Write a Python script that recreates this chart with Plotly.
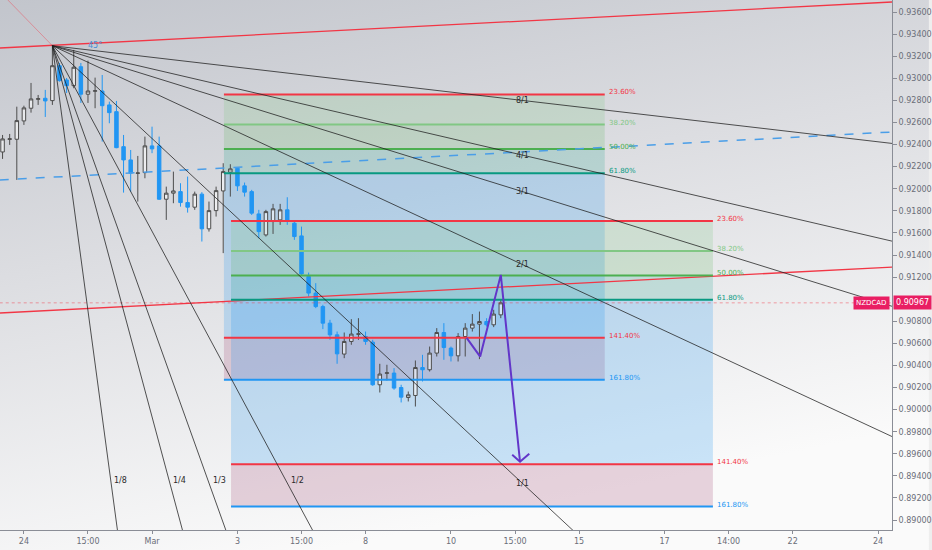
import base64
import plotly.graph_objects as go

# ---------------- data ----------------
bars = list(range(-3, 68))  # 4h bar index, 0 = Feb 24 00:00

opens = [0.92333,0.92447,0.92448,0.92614,0.92729,0.92810,0.92819,0.92798,0.93114,0.92985,
         0.92933,0.93105,0.92856,0.92883,0.92885,0.92759,0.92698,0.92381,0.92261,0.92139,
         0.92146,0.92388,0.92388,0.91905,0.91960,0.91974,0.91875,0.91833,0.91951,0.91637,
         0.91802,0.91980,0.92150,0.92186,0.92026,0.91974,0.91772,0.91582,0.91703,0.91718,
         0.91809,0.91688,0.91573,0.91205,0.91055,0.90933,0.90783,0.90677,0.90503,0.90617,
         0.90682,0.90662,0.90611,0.90225,0.90329,0.90331,0.90200,0.90110,0.90128,0.90381,
         0.90361,0.90512,0.90698,0.90557,0.90487,0.90662,0.90738,0.90774,0.90798,0.90768,
         0.90858]
highs = [0.92487,0.92496,0.92743,0.92752,0.92958,0.92849,0.92895,0.93295,0.93139,0.93003,
         0.93257,0.93139,0.93160,0.93006,0.93030,0.92789,0.92795,0.92487,0.92351,0.92297,
         0.92472,0.92562,0.92472,0.92019,0.92155,0.92050,0.92110,0.91974,0.91969,0.91884,
         0.92019,0.92231,0.92222,0.92191,0.92056,0.91990,0.91809,0.91809,0.91863,0.91863,
         0.91923,0.91712,0.91657,0.91241,0.91145,0.90949,0.90813,0.90707,0.90698,0.90819,
         0.90828,0.90707,0.90632,0.90415,0.90406,0.90376,0.90225,0.90164,0.90445,0.90496,
         0.90571,0.90738,0.90783,0.90571,0.90693,0.90783,0.90865,0.90888,0.90828,0.90904,
         0.90994]
lows = [0.92270,0.92397,0.92080,0.92578,0.92689,0.92759,0.92650,0.92759,0.92970,0.92867,
        0.92910,0.92777,0.92777,0.92729,0.92427,0.92593,0.92367,0.91965,0.91974,0.91884,
        0.92095,0.92322,0.91899,0.91718,0.91869,0.91838,0.91784,0.91809,0.91522,0.91612,
        0.91748,0.91417,0.91929,0.91980,0.91929,0.91763,0.91552,0.91567,0.91591,0.91673,
        0.91673,0.91537,0.91220,0.91024,0.90919,0.90729,0.90632,0.90415,0.90466,0.90587,
        0.90632,0.90587,0.90216,0.90155,0.90264,0.90180,0.90065,0.90074,0.90028,0.90255,
        0.90345,0.90481,0.90451,0.90436,0.90436,0.90481,0.90707,0.90457,0.90752,0.90747,
        0.90828]
closes = [0.92451,0.92452,0.92617,0.92732,0.92813,0.92815,0.92795,0.93114,0.92979,0.92933,
          0.93100,0.92856,0.92885,0.92887,0.92752,0.92689,0.92372,0.92261,0.92141,0.92143,
          0.92388,0.92361,0.91905,0.91960,0.91980,0.91875,0.91833,0.91951,0.91637,0.91802,
          0.91983,0.92155,0.92180,0.92026,0.91969,0.91779,0.91612,0.91793,0.91818,0.91809,
          0.91712,0.91567,0.91229,0.91055,0.90933,0.90783,0.90677,0.90505,0.90617,0.90684,
          0.90686,0.90617,0.90225,0.90322,0.90333,0.90195,0.90113,0.90134,0.90381,0.90361,
          0.90512,0.90698,0.90562,0.90487,0.90662,0.90738,0.90774,0.90798,0.90768,0.90865,
          0.90967]

x_tick_vals = [0, 9, 18, 30, 39, 48, 60, 69, 78, 90, 99, 108, 120]
x_tick_text = ["24", "15:00", "Mar", "3", "15:00", "8", "10", "15:00", "15", "17", "14:00", "22", "24"]
# 0.91000 sits behind the last-price label in the reference, so it is left out
y_tick_vals = [0.890, 0.892, 0.894, 0.896, 0.898, 0.900, 0.902, 0.904, 0.906, 0.908, 0.912,
               0.914, 0.916, 0.918, 0.920, 0.922, 0.924, 0.926, 0.928, 0.930, 0.932, 0.934, 0.936]

x_range = [-3.36, 121.96]
y_range = [0.88910, 0.93709]

last_price = 0.90967
symbol = "NZDCAD"

# Gann fan
fan_origin = (4, 0.93295)
fan_unit = 0.0006          # price per bar for 1/1
fan_names = ["8/1", "4/1", "3/1", "2/1", "1/1", "1/2", "1/3", "1/4", "1/8"]
fan_mult = [1/8, 1/4, 1/3, 1/2, 1, 2, 3, 4, 8]
fan_box = (70.1, 0.89320)  # right edge bar / bottom price of fan label box

# Fibonacci retracements (start bar, end bar, 0% price, 100% price)
fib_ratios = [0.236, 0.382, 0.5, 0.618, 1.414, 1.618]
fib_labels = ["23.60%", "38.20%", "50.00%", "61.80%", "141.40%", "161.80%"]
fib_line_colors = ["#f23645", "#81c784", "#4caf50", "#089981", "#f23645", "#2196f3"]
fib_band_colors = ["rgba(129,199,132,0.22)", "rgba(76,175,80,0.18)", "rgba(8,153,129,0.18)",
                   "rgba(33,150,243,0.22)", "rgba(170,90,130,0.25)"]
fibA = (28.1, 81.6, 0.93295, 0.91425)
fibB = (29.1, 96.8, 0.92150, 0.90279)

# trend lines (x at chart edges, prices)
edge_x = [-3.4, 122.0]
red_top_y = [0.93274, 0.93691]
red_low_y = [0.90875, 0.91291]
blue_dash_y = [0.92079, 0.92514]
red_45_x = [4, -2.3]
red_45_y = [0.93295, 0.93712]

# projection path
proj_x = [62.2, 64.1, 67.0, 69.7]
proj_y = [0.90650, 0.90480, 0.91220, 0.89528]
arrow_x = [68.6, 69.7, 71.0]
arrow_y = [0.89591, 0.89528, 0.89600]

# ---------------- figure ----------------
fig = go.Figure()
shapes = []
annotations = []

FONT = "DejaVu Sans"

def fib_price(f, r):
    return f[2] - r * (f[2] - f[3])

for f in (fibA, fibB):
    prices = [fib_price(f, r) for r in fib_ratios]
    for i in range(len(prices) - 1):
        shapes.append(dict(type="rect", xref="x", yref="y", x0=f[0], x1=f[1],
                           y0=prices[i], y1=prices[i + 1], fillcolor=fib_band_colors[i],
                           line=dict(width=0), layer="below"))

# trend lines under candles
fig.add_trace(go.Scatter(x=edge_x, y=red_top_y, mode="lines", line=dict(color="#f23645", width=1.3),
                         hoverinfo="skip", showlegend=False))
fig.add_trace(go.Scatter(x=edge_x, y=red_low_y, mode="lines", line=dict(color="#f23645", width=1.3),
                         hoverinfo="skip", showlegend=False))
fig.add_trace(go.Scatter(x=red_45_x, y=red_45_y, mode="lines", line=dict(color="rgba(242,54,69,0.5)", width=0.8),
                         hoverinfo="skip", showlegend=False))
fig.add_trace(go.Scatter(x=edge_x, y=[last_price, last_price], mode="lines",
                         line=dict(color="rgba(242,54,69,0.45)", width=1, dash="dot"),
                         hoverinfo="skip", showlegend=False))

for f in (fibA, fibB):
    for r, lab, col in zip(fib_ratios, fib_labels, fib_line_colors):
        p = fib_price(f, r)
        fig.add_trace(go.Scatter(x=[f[0], f[1]], y=[p, p], mode="lines",
                                 line=dict(color=col, width=2), hoverinfo="skip", showlegend=False))
        annotations.append(dict(x=f[1], y=p, xref="x", yref="y", text=lab, showarrow=False,
                                xanchor="left", yanchor="middle", xshift=2, yshift=2,
                                font=dict(family=FONT, size=7, color=col)))

fig.add_trace(go.Scatter(x=edge_x, y=blue_dash_y, mode="lines",
                         line=dict(color="#4a9ee8", width=1.5, dash="dash"),
                         hoverinfo="skip", showlegend=False))

fig.add_trace(go.Candlestick(
    x=bars, open=opens, high=highs, low=lows, close=closes,
    increasing=dict(line=dict(color="#4d4d4d", width=1), fillcolor="rgba(255,255,255,0.55)"),
    decreasing=dict(line=dict(color="#2196f3", width=1), fillcolor="#2196f3"),
    whiskerwidth=0, showlegend=False, hoverinfo="skip"))

# Gann fan
ox, oy = fan_origin
for name, m in zip(fan_names, fan_mult):
    s = fan_unit * m
    fig.add_trace(go.Scatter(x=[ox, 130], y=[oy, oy - s * (130 - ox)], mode="lines",
                             line=dict(color="rgba(30,30,30,0.85)", width=0.9),
                             hoverinfo="skip", showlegend=False))
    py = oy - s * (fan_box[0] - ox)
    if py >= fan_box[1]:
        annotations.append(dict(x=fan_box[0], y=py, xref="x", yref="y", text=name, showarrow=False,
                                xanchor="center", yanchor="middle",
                                font=dict(family=FONT, size=8, color="#2a2a2a")))
    else:
        annotations.append(dict(x=ox + (oy - fan_box[1]) / s, y=fan_box[1], xref="x", yref="y",
                                text=name, showarrow=False, xanchor="left", yanchor="middle", xshift=1,
                                yshift=4, font=dict(family=FONT, size=8, color="#2a2a2a")))

annotations.append(dict(x=10, y=0.93301, xref="x", yref="y", text="45°", showarrow=False,
                        font=dict(family=FONT, size=8, color="#4a8fd8")))

# projection
fig.add_trace(go.Scatter(x=proj_x, y=proj_y, mode="lines", line=dict(color="#6236c9", width=2),
                         hoverinfo="skip", showlegend=False))
fig.add_trace(go.Scatter(x=arrow_x, y=arrow_y, mode="lines", line=dict(color="#6236c9", width=2),
                         hoverinfo="skip", showlegend=False))

# price labels
annotations.append(dict(x=1, y=last_price, xref="paper", yref="y", text="0.90967", showarrow=False,
                        xanchor="left", yanchor="middle", xshift=1, bgcolor="#e91e63",
                        font=dict(family=FONT, size=8, color="white"), borderpad=2))
annotations.append(dict(x=1, y=last_price, xref="paper", yref="y", text=symbol, showarrow=False,
                        xanchor="right", yanchor="middle", xshift=-2, bgcolor="#e91e63",
                        font=dict(family=FONT, size=7, color="white"), borderpad=2))

svg = ('<svg xmlns="http://www.w3.org/2000/svg" width="932" height="550" preserveAspectRatio="none">'
       '<defs><linearGradient id="g" x1="0" y1="0" x2="0.35" y2="1">'
       '<stop offset="0" stop-color="#c2c5cc"/><stop offset="0.45" stop-color="#dcdde1"/>'
       '<stop offset="1" stop-color="#fafafa"/></linearGradient></defs>'
       '<rect width="932" height="550" fill="url(#g)"/></svg>')
src = "data:image/svg+xml;base64," + base64.b64encode(svg.encode()).decode()

fig.update_layout(
    width=932, height=550,
    margin=dict(l=0, r=37, t=0, b=20),
    paper_bgcolor="#eeeeee", plot_bgcolor="rgba(0,0,0,0)",
    shapes=shapes, annotations=annotations,
    images=[dict(source=src, xref="paper", yref="paper", x=0, y=1, sizex=932 / 895, sizey=550 / 530,
                 xanchor="left", yanchor="top", sizing="stretch", layer="below")],
    showlegend=False,
    xaxis=dict(range=x_range, tickvals=x_tick_vals, ticktext=x_tick_text, showgrid=False, zeroline=False,
               rangeslider=dict(visible=False), showline=True, linecolor="#8a8d96", linewidth=1,
               ticks="outside", ticklen=3, tickcolor="#8a8d96",
               tickfont=dict(family=FONT, size=8, color="#6a6d78")),
    yaxis=dict(range=y_range, side="right", tickvals=y_tick_vals, tickformat=".5f", showgrid=False,
               zeroline=False, showline=True, linecolor="#8a8d96", linewidth=1,
               ticks="outside", ticklen=4, tickcolor="#8a8d96",
               tickfont=dict(family=FONT, size=8, color="#6a6d78")),
)

fig.write_html("out.html", config={"displayModeBar": False},
               post_script="document.body.style.margin='0';document.body.style.overflow='hidden';")
